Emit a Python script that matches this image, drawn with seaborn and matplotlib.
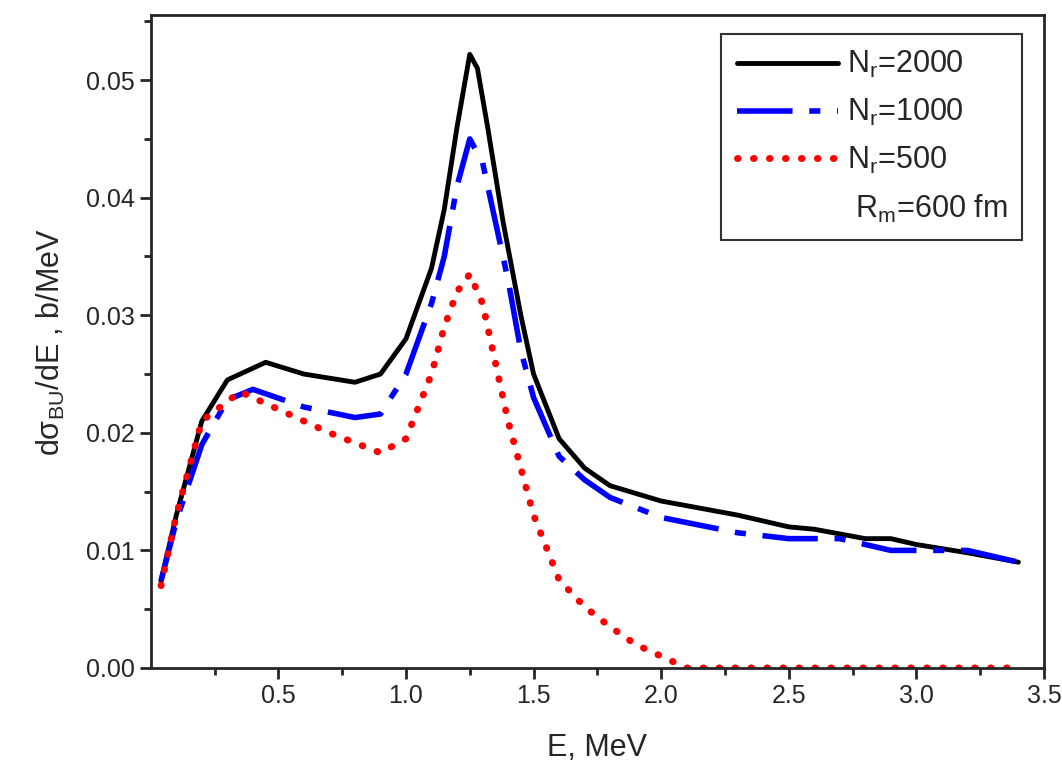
import matplotlib
matplotlib.use("Agg")
import matplotlib.pyplot as plt
import seaborn as sns

sns.set_style("ticks")
plt.rcParams['font.family'] = ['Liberation Sans', 'DejaVu Sans']
plt.rcParams['mathtext.fontset'] = 'custom'
plt.rcParams['mathtext.rm'] = 'Liberation Sans'

e_black = [0.04,0.1,0.2,0.3,0.45,0.6,0.8,0.9,1.0,1.1,1.15,1.2,1.25,1.28,1.32,1.38,1.45,1.5,1.6,1.7,1.8,2.0,2.3,2.5,2.6,2.8,2.9,3.0,3.2,3.4]
v_black = [0.0074,0.013,0.021,0.0245,0.026,0.025,0.0243,0.025,0.028,0.034,0.039,0.046,0.0522,0.051,0.046,0.038,0.030,0.025,0.0195,0.017,0.0155,0.0142,0.013,0.012,0.0118,0.011,0.011,0.0105,0.0098,0.009]
e_blue = [0.04,0.1,0.2,0.3,0.4,0.6,0.8,0.9,1.0,1.1,1.15,1.2,1.25,1.3,1.35,1.4,1.45,1.5,1.6,1.7,1.8,2.0,2.3,2.5,2.7,2.9,3.2,3.4]
v_blue = [0.0074,0.0125,0.019,0.0228,0.0237,0.0222,0.0213,0.0216,0.025,0.031,0.035,0.041,0.045,0.043,0.038,0.033,0.027,0.023,0.018,0.016,0.0145,0.0128,0.0115,0.011,0.011,0.010,0.010,0.009]
e_red = [0.04,0.1,0.2,0.35,0.5,0.7,0.9,1.0,1.1,1.15,1.2,1.25,1.3,1.35,1.4,1.5,1.6,1.7,1.8,1.9,2.0,2.1,2.5,3.0,3.38]
v_red = [0.007,0.013,0.021,0.0235,0.022,0.020,0.0183,0.0195,0.025,0.029,0.032,0.0335,0.031,0.026,0.021,0.013,0.0075,0.0052,0.0035,0.002,0.001,0.0,0.0,0.0,0.0]

fig, ax = plt.subplots(figsize=(10.62, 7.74), dpi=100)
sns.lineplot(x=e_black, y=v_black, ax=ax, color='black', lw=3.5, label=r'N$_\mathrm{r}$=2000')
sns.lineplot(x=e_blue, y=v_blue, ax=ax, color='blue', lw=4, label=r'N$_\mathrm{r}$=1000')
ax.lines[-1].set_dashes([10, 3, 2, 3])
sns.lineplot(x=e_red, y=v_red, ax=ax, color='red', lw=5, label=r'N$_\mathrm{r}$=500')
ax.lines[-1].set_dashes([0.1, 2.2])
ax.lines[-1].set_dash_capstyle('round')
for ln in ax.lines:
    ln.set_solid_joinstyle('round')
    ln.set_dash_joinstyle('round')
ax.plot([], [], ' ', label=r' R$_\mathrm{m}$=600 fm')

ax.set_xlim(0, 3.5)
ax.set_ylim(0, 0.0555)
ax.set_xticks([0.5,1.0,1.5,2.0,2.5,3.0,3.5])
ax.set_xticks([0.25,0.75,1.25,1.75,2.25,2.75,3.25], minor=True)
ax.set_yticks([0,0.01,0.02,0.03,0.04,0.05])
ax.set_yticks([0.005,0.015,0.025,0.035,0.045,0.055], minor=True)
ax.set_yticklabels(['0.00','0.01','0.02','0.03','0.04','0.05'])
ax.tick_params(axis='both', which='major', labelsize=18, width=2, length=8, direction='out')
ax.tick_params(axis='both', which='minor', width=2, length=5, direction='out')
for s in ax.spines.values():
    s.set_linewidth(2)
    s.set_visible(True)
ax.set_xlabel('E, MeV', fontsize=22, labelpad=18)
ax.set_ylabel('dσ$_\\mathrm{BU}$/dE , b/MeV', fontsize=22, labelpad=14)
leg = ax.legend(loc='upper right', fontsize=22, frameon=True, fancybox=False,
                edgecolor='black', handlelength=3.3, handletextpad=0.3, labelspacing=0.55, borderpad=0.5,
                bbox_to_anchor=(0.993, 0.995))
leg.get_frame().set_linewidth(1.5)
fig.subplots_adjust(left=0.142, right=0.983, top=0.98, bottom=0.137)
fig.savefig('out.png', dpi=100)
